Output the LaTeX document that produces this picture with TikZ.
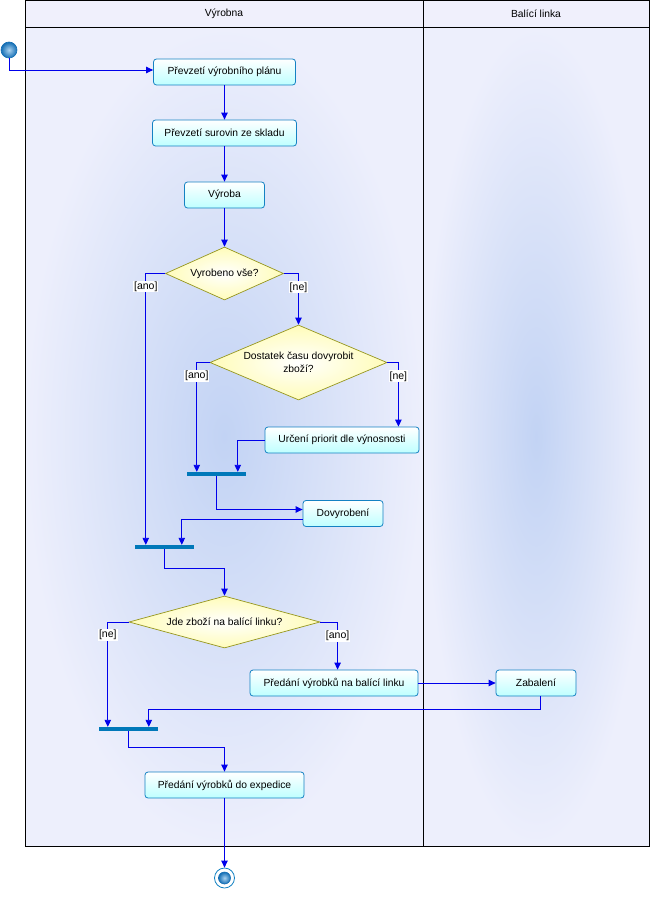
\documentclass[tikz,border=0pt]{standalone}
\usepackage{fontspec}
\setmainfont{Liberation Sans}
\usetikzlibrary{arrows.meta,shapes.geometric}
\definecolor{flowc}{RGB}{0,0,235}
\definecolor{nodeB}{RGB}{20,130,195}
\definecolor{nodeF}{RGB}{190,255,255}
\definecolor{diaB}{RGB}{150,150,30}
\definecolor{diaF}{RGB}{255,252,185}
\definecolor{barC}{RGB}{0,120,185}
\definecolor{laneC}{RGB}{194,211,244}
\definecolor{laneE}{RGB}{237,239,252}
\definecolor{headF}{RGB}{240,240,252}
\definecolor{ballI}{RGB}{170,210,240}
\definecolor{ballO}{RGB}{20,110,180}
\tikzset{
  act/.style={draw=nodeB, line width=0.8pt, rounded corners=3pt, top color=white, bottom color=nodeF, minimum height=26pt, inner sep=2pt, font=\fontsize{10.3}{12}\selectfont},
  dec/.style={diamond, draw=diaB, line width=0.7pt, inner color=white, outer color=diaF, inner sep=0pt, align=center, font=\fontsize{10.3}{12.5}\selectfont},
  syncbar/.style={rectangle, fill=barC, minimum height=4pt, minimum width=59pt, inner sep=0pt},
  flow/.style={draw=flowc, line width=0.9pt, -{Triangle[length=7pt,width=6.5pt]}},
  lbl/.style={fill=white, inner sep=1pt, text=black, font=\fontsize{10.5}{12}\selectfont},
  ball/.style={circle, inner color=ballI, outer color=ballO, draw=ballO, line width=0.6pt, inner sep=0pt}
}
\begin{document}
\begin{tikzpicture}[x=1pt,y=-1pt]
\useasboundingbox (0,0) rectangle (650,904);
% swimlanes
\fill[headF] (25,0) rectangle (649,27);
\shade[inner color=laneC, outer color=laneE] (25,27) rectangle (423,846);
\shade[inner color=laneC, outer color=laneE] (423,27) rectangle (649,846);
\draw[line width=0.8pt] (25,0) rectangle (649,846);
\draw[line width=0.8pt] (25,27) -- (649,27);
\draw[line width=0.8pt] (423,0) -- (423,846);
\node[font=\fontsize{10.3}{12}\selectfont] (h1) at (224,13.5) {Výrobna};
\node[font=\fontsize{10.3}{12}\selectfont] (h2) at (536,13.5) {Balící linka};

% nodes
\node[ball, minimum size=16pt] (start) at (9,50) {};
\node[act, minimum width=142pt] (n1) at (224.5,72) {Převzetí výrobního plánu};
\node[act, minimum width=144pt] (n2) at (224.5,133) {Převzetí surovin ze skladu};
\node[act, minimum width=80pt] (n3) at (224.5,195) {Výroba};
\node[dec, minimum width=118pt, minimum height=53pt, aspect=2.2] (d1) at (224.5,273.5) {Vyrobeno vše?};
\node[dec, minimum width=177pt, minimum height=75pt, aspect=2.3] (d2) at (298.5,362.5) {Dostatek času dovyrobit\\zboží?};
\node[act, minimum width=154pt] (n4) at (342,440) {Určení priorit dle výnosnosti};
\node[syncbar] (b1) at (216.5,474) {};
\node[act, minimum width=80pt] (n5) at (343,513.5) {Dovyrobení};
\node[syncbar] (b2) at (164.5,547) {};
\node[dec, minimum width=191pt, minimum height=52pt, aspect=3.6] (d3) at (224.5,622) {Jde zboží na balící linku?};
\node[act, minimum width=168pt] (n6) at (334,683) {Předání výrobků na balící linku};
\node[act, minimum width=80pt] (z) at (536,683) {Zabalení};
\node[syncbar] (b3) at (128.5,729) {};
\node[act, minimum width=159pt] (n7) at (224.5,785) {Předání výrobků do expedice};
\node[circle, draw=nodeB, fill=white, line width=0.8pt, minimum size=20pt, inner sep=0pt] (endo) at (224.5,878) {};
\node[ball, minimum size=12pt] (endi) at (endo) {};

% connectors
\draw[flow] (start.south) |- ([yshift=2pt]n1.west);
\draw[flow] (n1.south) -- (n2.north);
\draw[flow] (n2.south) -- (n3.north);
\draw[flow] (n3.south) -- (d1.north);
\draw[flow] (d1.west) -| ([xshift=11pt]b2.north west) node[lbl, pos=0.524] {[ano]};
\draw[flow] (d1.east) -| (d2.north) node[lbl, pos=0.635] {[ne]};
\draw[flow] (d2.west) -| ([xshift=10pt]b1.north west) node[lbl, pos=0.5625] {[ano]};
\draw[flow] (d2.east) -| ([xshift=-21pt]n4.north east) node[lbl, pos=0.608] {[ne]};
\draw[flow] (n4.west) -| ([xshift=51pt]b1.north west);
\draw[flow] (b1.south) |- ([yshift=4pt]n5.west);
\draw[flow] ([yshift=-6pt]n5.west) -| ([xshift=47pt]b2.north west);
\draw[flow] (b2.south) -- ++(0,19) -| (d3.north);
\draw[flow] (d3.west) -| ([xshift=9pt]b3.north west) node[lbl, pos=0.561] {[ne]};
\draw[flow] (d3.east) -| ([xshift=88pt]n6.north west) node[lbl, pos=0.646] {[ano]};
\draw[flow] (n6.east) -- (z.west);
\draw[flow] ([xshift=4pt]z.south) -- ++(0,13) -| ([xshift=50pt]b3.north west);
\draw[flow] (b3.south) -- ++(0,16) -| (n7.north);
\draw[flow] (n7.south) -- (endo.north);
\end{tikzpicture}
\end{document}
